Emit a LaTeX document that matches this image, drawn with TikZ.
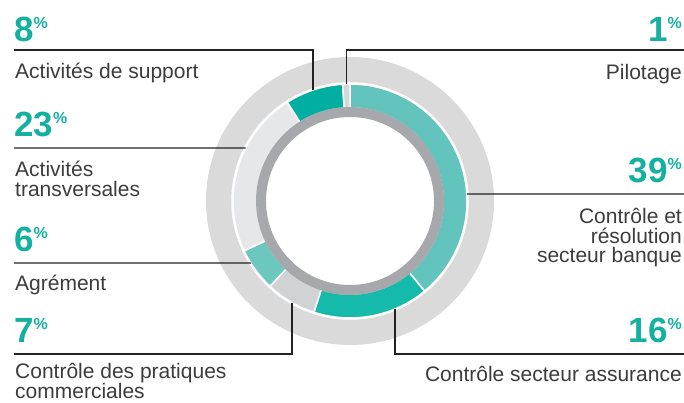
\documentclass[tikz,border=0pt]{standalone}
\usepackage{fontspec}
\setmainfont{Liberation Sans}
\usepackage{tikz}

\definecolor{disc}{RGB}{218,218,218}
\definecolor{ringgray}{RGB}{167,168,171}
\definecolor{cBanque}{RGB}{98,196,188}
\definecolor{cAssur}{RGB}{22,186,171}
\definecolor{cPrat}{RGB}{209,210,212}
\definecolor{cAgr}{RGB}{108,200,190}
\definecolor{cTrans}{RGB}{230,231,233}
\definecolor{cSupp}{RGB}{0,175,161}
\definecolor{cPil}{RGB}{214,215,217}
\definecolor{tealtxt}{RGB}{20,176,160}
\definecolor{txt}{RGB}{60,60,60}
\definecolor{lead}{RGB}{35,35,35}

\newcommand{\pc}{\raisebox{13.3pt}{\fontsize{16}{16}\selectfont\bfseries\%}}

\begin{document}
\begin{tikzpicture}[x=1pt, y=1pt,
        leader/.style={line width=1.2pt, draw=lead},
        pct/.style={inner sep=0pt, text=tealtxt, font=\fontsize{35}{35}\selectfont\bfseries},
        lbl/.style={inner sep=0pt, text=txt, font=\fontsize{21}{19.5}\selectfont}]
            \useasboundingbox (0,0) rectangle (684,403);
            \coordinate (C) at (350,202);

            \fill[disc] (C) circle (144);
            \foreach \a/\b/\c in {90/-50.4/cBanque, -50.4/-108/cAssur, -108/-133.2/cPrat, -133.2/-154.8/cAgr, -154.8/-237.6/cTrans, -237.6/-266.4/cSupp, -266.4/-270/cPil}
                \filldraw[fill=\c, draw=white, line width=1.5pt] ([shift={(C)}]\a:117) arc[start angle=\a, end angle=\b, radius=117] to ([shift={(C)}]\b:93) arc[start angle=\b, end angle=\a, radius=93] -- cycle;
            \draw[white, line width=1.5pt] (C) circle (118);
            \fill[white] (C) circle (89);
            \draw[ringgray, line width=10pt] (C) circle (89);

            % points on the ring
            \coordinate (r8) at ([shift={(C)}]108.4:117);
            \coordinate (r1) at ([shift={(C)}]91.6:117);
            \coordinate (r23) at ([shift={(C)}]153.1:117);
            \coordinate (r39) at ([shift={(C)}]3.4:117);
            \coordinate (r6) at ([shift={(C)}]212:117);
            \coordinate (r7) at ([shift={(C)}]240.3:117);
            \coordinate (r16) at ([shift={(C)}]292.6:117);

            \coordinate (a8) at (14,353);
            \coordinate (a1) at (684,353);
            \coordinate (a23) at (14,255);
            \coordinate (a39) at (684,209);
            \coordinate (a6) at (14,140);
            \coordinate (a7) at (14,49);
            \coordinate (a16) at (684,49);

            \draw[leader] (a8) -| (r8);
            \draw[leader] (a1) -| (r1);
            \draw[leader] (a23) to (r23);
            \draw[leader] (a39) to (r39);
            \draw[leader] (a6) to (r6);
            \draw[leader] (a7) -| (r7);
            \draw[leader] (a16) -| (r16);

            % left column
            \node[pct, anchor=base west] (p8) at (14,361) {8\pc};
            \node[lbl, anchor=base west] (l8) at (15,324) {Activités de support};
            \node[pct, anchor=base west] (p23) at (14,266) {23\pc};
            \node[lbl, anchor=base west, align=left] (l23) at (15,206.5) {Activités\\transversales};
            \node[pct, anchor=base west] (p6) at (14,151) {6\pc};
            \node[lbl, anchor=base west] (l6) at (15,112) {Agrément};
            \node[pct, anchor=base west] (p7) at (14,60) {7\pc};
            \node[lbl, anchor=base west, align=left] (l7) at (15,4) {Contrôle des pratiques\\commerciales};

            % right column
            \node[pct, anchor=base east] (p1) at (682,361) {1\pc};
            \node[lbl, anchor=base east] (l1) at (682,323) {Pilotage};
            \node[pct, anchor=base east] (p39) at (682,220) {39\pc};
            \node[lbl, anchor=base east, align=right] (l39) at (682,140) {Contrôle et\\résolution\\secteur banque};
            \node[pct, anchor=base east] (p16) at (682,60) {16\pc};
            \node[lbl, anchor=base east] (l16) at (682,21) {Contrôle secteur assurance};

        \end{tikzpicture}
\end{document}
